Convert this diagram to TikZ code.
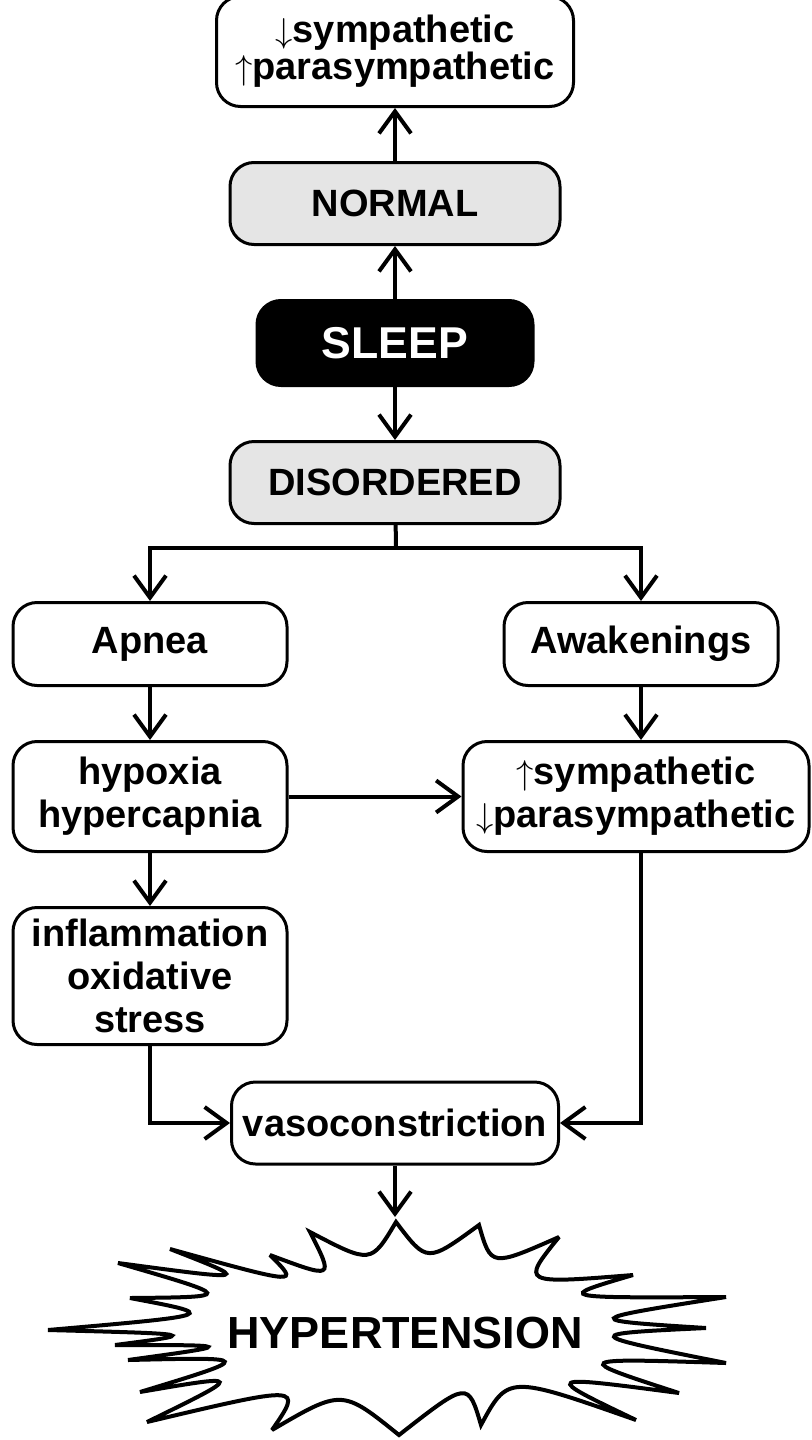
\documentclass[tikz,border=0pt]{standalone}
\usepackage{fontspec}
\setmainfont{Liberation Sans}
\usetikzlibrary{positioning, arrows.meta}
\tikzset{
  box/.style={rectangle, rounded corners=12pt, draw=black, line width=1.5pt, fill=white, minimum width=137pt, minimum height=41.5pt, inner sep=0pt, align=center, font=\bfseries\fontsize{19}{21.5}\selectfont},
  box1/.style={box, fill=black!10, minimum width=165pt, minimum height=41pt},
  box2/.style={box, fill=black, text=white, minimum width=138pt, minimum height=42.5pt, font=\bfseries\fontsize{22.3}{26}\selectfont},
  burst/.style={line width=2pt, line join=miter, miter limit=4}
}
\tikzstyle{arrow} = [line width=2pt, black, -{Straight Barb[length=11pt,width=16pt]}]
\tikzstyle{line} = [line width=2pt, black]
\newcommand{\up}{$\uparrow$}
\newcommand{\down}{$\downarrow$}

\begin{document}
\begin{tikzpicture}[x=0.5pt, y=-0.5pt, node distance=26.5pt]
    \useasboundingbox (0,0) rectangle (811,1440);

    \node [box2] (sleep) at (395,343) {SLEEP};
    \node [box1, above=of sleep] (normal) {NORMAL};
    \node [box, above=of normal, minimum width=178.5pt, minimum height=55pt, font=\bfseries\fontsize{19}{18.5}\selectfont] (tone) {\down sympathetic\\\up parasympathetic};
    \node [box1, below=of sleep] (dis) {DISORDERED};
    \coordinate (split) at (396,548);

    \node [box] (apnea) at (150,644) {Apnea};
    \node [box] (awake) at (641,644) {Awakenings};
    \node [box, below=of apnea, minimum height=55pt] (hypoxia) {hypoxia\\hypercapnia};
    \node [box, below=of awake, xshift=-2.5pt, minimum width=173pt, minimum height=55pt] (sympa) {\up sympathetic\\\down parasympathetic};
    \node [box, below=of hypoxia, minimum height=68.5pt] (inflam) {inflammation\\oxidative\\stress};
    \node [box, minimum width=163.5pt, minimum height=41pt] (vaso) at (395,1123) {vasoconstriction};

    % burst round the last node
    \coordinate (bursttip) at (396,1222);
    \draw [burst] (bursttip)
      \foreach \cx/\cy/\tx/\ty in {427/1263/479/1225, 491/1267/559/1237, 521/1284/633/1275, 555/1298/726/1297,
                         580/1320/706/1328, 580/1334/726/1363, 571/1358/679/1393, 542/1375/636/1420,
                         508/1375/481/1425, 468/1381/399/1435, 342/1389/272/1430, 303/1385/147/1422,
                         245/1374/140/1392, 255/1357/128/1360, 237/1345/115/1345, 200/1334/48/1330,
                         220/1315/130/1298, 235/1297/118/1263, 252/1281/170/1249, 300/1285/270/1255,
                         334/1279/310/1232, 371/1264/396/1222}
      { .. controls (\cx,\cy) .. (\tx,\ty) } -- cycle;
    \node [font=\bfseries\fontsize{22.5}{26}\selectfont] (hyper) at (405,1333) {HYPERTENSION};

    \draw [arrow] (normal) -- (tone);
    \draw [arrow] (sleep) -- (normal);
    \draw [arrow] (sleep) -- (dis);
    \draw [line] (dis) -- (split);
    \draw [arrow] (split) -| (apnea);
    \draw [arrow] (split) -| (awake);
    \draw [arrow] (apnea) -- (hypoxia);
    \draw [arrow] (awake.south) -- (awake.south |- sympa.north);
    \draw [arrow] (hypoxia) -- (sympa);
    \draw [arrow] (hypoxia) -- (inflam);
    \draw [arrow] (inflam) |- (vaso);
    \draw [arrow] (sympa.south -| awake) |- (vaso);
    \draw [arrow] (vaso.south) -- ([yshift=2.5pt]vaso.south |- bursttip);
\end{tikzpicture}
\end{document}
